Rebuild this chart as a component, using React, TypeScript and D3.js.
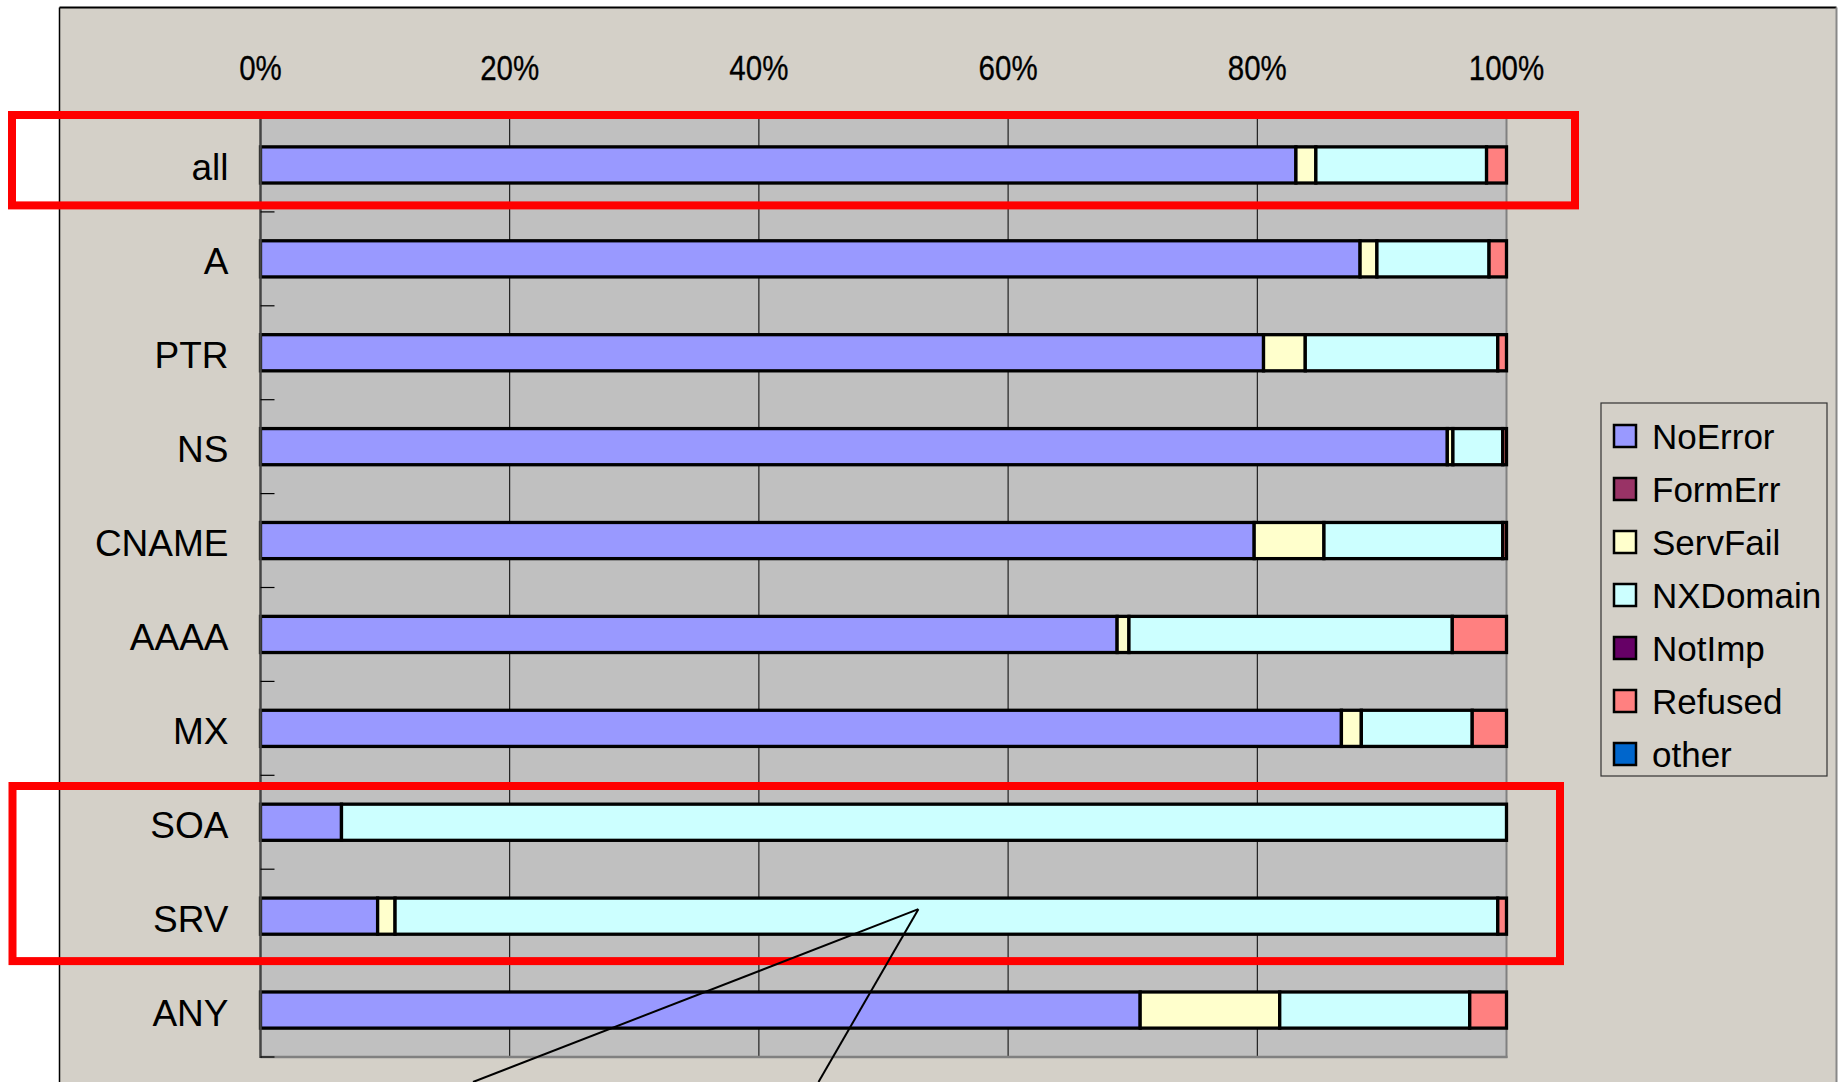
import React from 'react';
import * as d3 from 'd3';

// DNS query types and response-code shares (percent of queries)
const categories = ['all', 'A', 'PTR', 'NS', 'CNAME', 'AAAA', 'MX', 'SOA', 'SRV', 'ANY'];
const seriesNames = ['NoError', 'FormErr', 'ServFail', 'NXDomain', 'NotImp', 'Refused', 'other'];
const seriesColors = ['#9999FF', '#993366', '#FFFFCC', '#CCFFFF', '#660066', '#FF8080', '#0066CC'];

const noError = [83.1, 88.25, 80.5, 95.25, 79.75, 68.75, 86.75, 6.5, 9.4, 70.6];
const formErr = [0, 0, 0, 0, 0, 0, 0, 0, 0, 0];
const servFail = [1.6, 1.35, 3.35, 0.45, 5.6, 0.95, 1.6, 0, 1.4, 11.2];
const nxDomain = [13.7, 9.0, 15.45, 4.0, 14.35, 25.95, 8.9, 93.5, 88.5, 15.25];
const notImp = [0, 0, 0, 0, 0, 0, 0, 0, 0, 0];
const refused = [1.6, 1.4, 0.7, 0.3, 0.3, 4.35, 2.75, 0, 0.7, 2.95];
const other = [0, 0, 0, 0, 0, 0, 0, 0, 0, 0];

const xTicks = [0, 20, 40, 60, 80, 100];

// pointer target on the SRV row
const pointerTarget = { category: 'SRV', value: 52.8 };

const W = 1838;
const H = 1082;
const FONT = '"Liberation Sans", Arial, sans-serif';

export default function App() {
  const seriesValues = [noError, formErr, servFail, nxDomain, notImp, refused, other];
  const rows = categories.map((c, i) => {
    const r: Record<string, any> = { category: c };
    seriesNames.forEach((s, k) => (r[s] = seriesValues[k][i]));
    return r;
  });
  const stacked = d3.stack<any>().keys(seriesNames)(rows);

  const plot = { left: 260.5, right: 1506.5, top: 118, bottom: 1057 };
  const x = d3.scaleLinear().domain([0, 100]).range([plot.left, plot.right]);
  const y = d3.scaleBand<string>().domain(categories).range([plot.top, plot.bottom]).padding(0);
  const bw = y.bandwidth();
  const barH = bw * 0.385;
  const barY = (c: string) => (y(c) as number) + (bw - barH) / 2;

  const boundaries = d3.range(categories.length + 1).map((i) => plot.top + i * bw);

  // legend layout
  const lg = { x: 1601, y: 403, w: 226, h: 373, first: 436, step: 53 };

  // highlight rectangles around the "all" row and the SOA/SRV rows
  const hlRects = [
    { x0: 12, x1: x(100) + 68.5, y0: (y('all') as number) - 3, y1: (y('all') as number) + bw - 6.5 },
    { x0: 12.5, x1: x(100) + 53.5, y0: (y('SOA') as number) + 10.7, y1: (y('SRV') as number) + bw - 2 },
  ];

  const apex = { x: x(pointerTarget.value), y: (y(pointerTarget.category) as number) + bw / 2 - 7 };
  const ends = [
    { x: 473, y: H },
    { x: 818.5, y: H },
  ];

  return (
    <svg
      width={W}
      height={H}
      style={{ position: 'absolute', left: 0, top: 0, display: 'block', background: '#fff' }}
      fontFamily={FONT}
    >
      {/* chart area */}
      <rect x={59.5} y={7.5} width={1777} height={H + 20} fill="#D4D0C8" />
      <line x1={59.5} y1={7.5} x2={1836.5} y2={7.5} stroke="#000" strokeWidth={2} />
      <line x1={59.5} y1={7.5} x2={59.5} y2={H} stroke="#000" strokeWidth={1.5} />
      <line x1={1836.5} y1={7.5} x2={1836.5} y2={H} stroke="#888" strokeWidth={2} />

      {/* plot area */}
      <rect x={plot.left} y={plot.top} width={plot.right - plot.left} height={plot.bottom - plot.top} fill="#C0C0C0" />
      {xTicks
        .filter((t) => t > 0 && t < 100)
        .map((t) => (
          <line key={t} x1={x(t)} x2={x(t)} y1={plot.top} y2={plot.bottom} stroke="#000" strokeWidth={1} />
        ))}
      <line x1={x(100)} x2={x(100)} y1={plot.top} y2={plot.bottom + 1} stroke="#808080" strokeWidth={2} />
      <line x1={plot.left} x2={plot.right + 1} y1={plot.bottom} y2={plot.bottom} stroke="#808080" strokeWidth={2.5} />

      {/* bars */}
      {stacked.map((layer, k) =>
        layer.map((d, i) => {
          if (d[1] - d[0] <= 0) return null;
          const c = categories[i];
          return (
            <rect
              key={`${k}-${i}`}
              x={x(d[0])}
              y={barY(c)}
              width={x(d[1]) - x(d[0])}
              height={barH}
              fill={seriesColors[k]}
              stroke="#000"
              strokeWidth={3.3}
            />
          );
        })
      )}

      {/* category axis */}
      <line x1={plot.left} x2={plot.left} y1={plot.top} y2={plot.bottom + 1} stroke="#444" strokeWidth={2.5} />
      {boundaries.map((b, i) => (
        <line key={i} x1={plot.left} x2={plot.left + 14} y1={b} y2={b} stroke="#000" strokeWidth={1.2} />
      ))}
      {categories.map((c) => (
        <text
          key={c}
          x={plot.left - 32}
          y={(y(c) as number) + bw / 2 + 15.5}
          textAnchor="end"
          fontSize={37}
          fill="#000"
        >
          {c}
        </text>
      ))}

      {/* value axis labels */}
      {xTicks.map((t) => (
        <text
          key={t}
          transform={`translate(${x(t)},79.5) scale(0.82,1)`}
          textAnchor="middle"
          fontSize={36}
          fill="#000"
          stroke="#000"
          strokeWidth={0.3}
        >
          {`${t}%`}
        </text>
      ))}

      {/* legend */}
      <rect x={lg.x} y={lg.y} width={lg.w} height={lg.h} fill="#D4D0C8" stroke="#333" strokeWidth={1.2} />
      {seriesNames.map((s, k) => {
        const cy = lg.first + k * lg.step;
        return (
          <g key={s}>
            <rect x={1614} y={cy - 11} width={22} height={22} fill={seriesColors[k]} stroke="#000" strokeWidth={2.5} />
            <text x={1652} y={cy + 13} fontSize={35} fill="#000">
              {s}
            </text>
          </g>
        );
      })}

      {/* highlight frames */}
      {hlRects.map((r, i) => (
        <rect
          key={i}
          x={r.x0}
          y={r.y0}
          width={r.x1 - r.x0}
          height={r.y1 - r.y0}
          fill="none"
          stroke="#FF0000"
          strokeWidth={8}
        />
      ))}

      {/* pointer lines */}
      {ends.map((e, i) => (
        <line key={i} x1={apex.x} y1={apex.y} x2={e.x} y2={e.y} stroke="#000" strokeWidth={2} />
      ))}
    </svg>
  );
}
